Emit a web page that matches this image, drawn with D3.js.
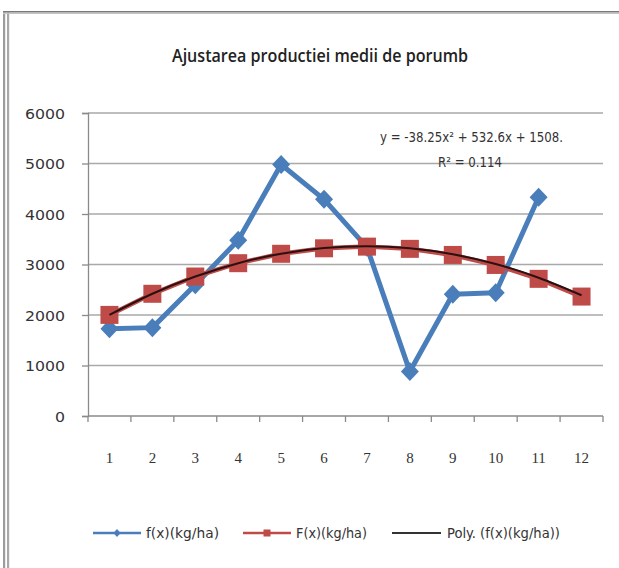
<!DOCTYPE html>
<html>
<head>
<meta charset="utf-8">
<script src="https://cdn.jsdelivr.net/npm/d3@7"></script>
<style>
  html, body { margin: 0; padding: 0; background: #fff; }
  svg { display: block; }
  text { font-family: "Liberation Sans Narrow", "DejaVu Sans Condensed", "Open Sans", sans-serif; fill: #2b2b2b; }
</style>
</head>
<body>
<script>
// Categories (years 1..12) and the two series, kg/ha
const categories = [1, 2, 3, 4, 5, 6, 7, 8, 9, 10, 11, 12];
const fSeries = [1730, 1750, 2600, 3480, 4980, 4290, 3340, 880, 2410, 2440, 4330, null];
const FSeries = [2002, 2420, 2762, 3026, 3212, 3321, 3354, 3310, 3189, 2991, 2716, 2365];
// Quadratic trend of f(x): c0 + c1*x + c2*x^2
const trendCoef = [1508, 532.6, -38.25];
const trendR2 = 0.114;
const yTicks = [0, 1000, 2000, 3000, 4000, 5000, 6000];
const legendLabels = ["f(x)(kg/ha)", "F(x)(kg/ha)", "Poly. (f(x)(kg/ha))"];
const titleText = "Ajustarea productiei medii de  porumb";

const W = 619, H = 568;
const svg = d3.select("body").append("svg").attr("width", W).attr("height", H);

// panel frame: double rule on the left, single rule on top
svg.append("rect").attr("x", 3).attr("y", 11).attr("width", 2.2).attr("height", H - 11).attr("fill", "#9c9c9c");
svg.append("rect").attr("x", 7).attr("y", 11).attr("width", 2.2).attr("height", H - 11).attr("fill", "#a8a8a8");
svg.append("rect").attr("x", 3).attr("y", 11).attr("width", W - 3).attr("height", 1.6).attr("fill", "#7a7a7a");
svg.append("rect").attr("x", 3).attr("y", 12.6).attr("width", W - 3).attr("height", 1.4).attr("fill", "#c4c4c4");

// title
svg.append("text")
  .attr("x", 172).attr("y", 62)
  .attr("textLength", 296).attr("lengthAdjust", "spacingAndGlyphs")
  .style("font-family", "'Open Sans', sans-serif")
  .style("font-size", "18px").style("font-weight", "600").style("fill", "#222")
  .text(titleText);

const plot = { left: 88, right: 603, top: 113, bottom: 416 };
const x = d3.scaleBand().domain(categories).range([plot.left, plot.right]).padding(0);
const cx = d => x(d) + x.bandwidth() / 2;
const y = d3.scaleLinear().domain([0, 6000]).range([plot.bottom, plot.top]);

// horizontal gridlines
svg.append("g").selectAll("line").data(yTicks.filter(v => v > 0)).join("line")
  .attr("x1", plot.left).attr("x2", plot.right)
  .attr("y1", d => y(d)).attr("y2", d => y(d))
  .attr("stroke", "#a9a9a9").attr("stroke-width", 1.6);

// y axis
const yAxis = svg.append("g").attr("transform", `translate(${plot.left},0)`)
  .call(d3.axisLeft(y).tickValues(yTicks).tickSize(6).tickPadding(6).tickFormat(d3.format("d")));
yAxis.select(".domain").attr("stroke", "#8a8a8a").attr("stroke-width", 1.3);
yAxis.selectAll(".tick line").attr("stroke", "#8a8a8a").attr("stroke-width", 1.3);
yAxis.selectAll(".tick text").style("font-size", "14px").style("fill", "#333")
  .attr("x", -23).attr("dy", "0.36em")
  .attr("textLength", d => String(d).length * 10).attr("lengthAdjust", "spacingAndGlyphs");

// x axis: ticks sit on the band boundaries, labels at band centres
const xAxisG = svg.append("g").attr("transform", `translate(0,${plot.bottom})`);
xAxisG.append("line").attr("x1", plot.left).attr("x2", plot.right)
  .attr("stroke", "#8a8a8a").attr("stroke-width", 1.3);
const bounds = categories.map(c => x(c)).concat([x(categories[categories.length - 1]) + x.bandwidth()]);
xAxisG.selectAll("line.tk").data(bounds).join("line").attr("class", "tk")
  .attr("x1", d => d).attr("x2", d => d).attr("y1", 0).attr("y2", 6)
  .attr("stroke", "#8a8a8a").attr("stroke-width", 1.3);
xAxisG.selectAll("text").data(categories).join("text")
  .attr("x", d => cx(d)).attr("y", 47)
  .attr("text-anchor", "middle")
  .style("font-family", "'Liberation Serif', 'DejaVu Serif', serif")
  .style("font-size", "15px").style("fill", "#333")
  .text(d => d);

const blue = "#4a7ebb", red = "#be4b48", dark = "#2a1010";

// f(x) series
const fPts = categories.map((c, i) => ({ c, v: fSeries[i] })).filter(d => d.v != null);
svg.append("path").datum(fPts)
  .attr("d", d3.line().x(d => cx(d.c)).y(d => y(d.v)))
  .attr("fill", "none").attr("stroke", blue).attr("stroke-width", 5).attr("stroke-linejoin", "round");
svg.append("g").selectAll("path").data(fPts).join("path")
  .attr("transform", d => `translate(${cx(d.c)},${y(d.v)})`)
  .attr("d", "M0,-9.5L9,0L0,9.5L-9,0Z")
  .attr("fill", blue);

// F(x) series
const FPts = categories.map((c, i) => ({ c, v: FSeries[i] }));
svg.append("path").datum(FPts)
  .attr("d", d3.line().x(d => cx(d.c)).y(d => y(d.v)))
  .attr("fill", "none").attr("stroke", red).attr("stroke-width", 4.5).attr("stroke-linejoin", "round");
svg.append("g").selectAll("rect").data(FPts).join("rect")
  .attr("x", d => cx(d.c) - 9).attr("y", d => y(d.v) - 9)
  .attr("width", 18).attr("height", 18)
  .attr("fill", red);

// polynomial trend line of f(x)
const trend = c => trendCoef[0] + trendCoef[1] * c + trendCoef[2] * c * c;
const trendPts = categories.map(c => ({ c, v: trend(c) }));
svg.append("path").datum(trendPts)
  .attr("d", d3.line().x(d => cx(d.c)).y(d => y(d.v)).curve(d3.curveNatural))
  .attr("fill", "none").attr("stroke", dark).attr("stroke-width", 2);

// trend equation and R²
svg.append("text").attr("x", 380).attr("y", 142)
  .attr("textLength", 183).attr("lengthAdjust", "spacingAndGlyphs")
  .style("font-size", "14px").style("fill", "#333")
  .text(`y = ${trendCoef[2]}x² + ${trendCoef[1]}x + ${trendCoef[0]}.`);
svg.append("text").attr("x", 438).attr("y", 167)
  .attr("textLength", 64).attr("lengthAdjust", "spacingAndGlyphs")
  .style("font-size", "14px").style("fill", "#333")
  .text(`R² = ${trendR2}`);

// legend
const ly = 533;
const legend = [
  { x0: 93, x1: 141, tx: 146, tw: 73, color: blue, marker: "diamond" },
  { x0: 243, x1: 291, tx: 296, tw: 71, color: red, marker: "square" },
  { x0: 392, x1: 441, tx: 447, tw: 113, color: "#333", marker: null }
];
legend.forEach((l, i) => {
  const g = svg.append("g");
  g.append("line").attr("x1", l.x0).attr("x2", l.x1).attr("y1", ly).attr("y2", ly)
    .attr("stroke", l.color).attr("stroke-width", i === 2 ? 2 : 2.6);
  const mx = (l.x0 + l.x1) / 2;
  if (l.marker === "diamond") {
    g.append("path").attr("transform", `translate(${mx},${ly})`)
      .attr("d", "M0,-4L3.6,0L0,4L-3.6,0Z").attr("fill", l.color);
  } else if (l.marker === "square") {
    g.append("rect").attr("x", mx - 3.5).attr("y", ly - 3.5).attr("width", 7).attr("height", 7).attr("fill", l.color);
  }
  g.append("text").attr("x", l.tx).attr("y", ly + 5)
    .attr("textLength", l.tw).attr("lengthAdjust", "spacingAndGlyphs")
    .style("font-size", "14px").style("fill", "#333")
    .text(legendLabels[i]);
});
</script>
</body>
</html>
